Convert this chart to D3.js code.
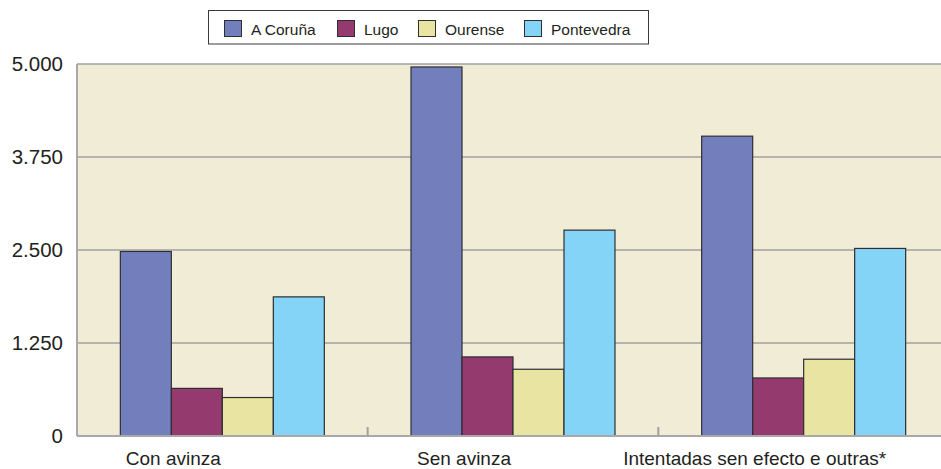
<!DOCTYPE html>
<html>
<head>
<meta charset="utf-8">
<script src="https://cdn.jsdelivr.net/npm/d3@7/dist/d3.min.js"></script>
<style>
html, body { margin: 0; padding: 0; background: #ffffff; }
svg { display: block; font-family: "Liberation Sans", Arial, sans-serif; }
</style>
</head>
<body>
<svg id="chart" width="941" height="469"></svg>
<script>
const categories = ["Con avinza", "Sen avinza", "Intentadas sen efecto e outras*"];
const seriesNames = ["A Coruña", "Lugo", "Ourense", "Pontevedra"];
const seriesColors = ["#737fbd", "#943a6e", "#e9e4a2", "#83d4f7"];
const aCoruna = [2480, 4960, 4030];
const lugo = [640, 1063, 780];
const ourense = [517, 897, 1032];
const pontevedra = [1870, 2767, 2521];
const yTicks = [0, 1250, 2500, 3750, 5000];
const yTickLabels = ["0", "1.250", "2.500", "3.750", "5.000"];

const seriesValues = [aCoruna, lugo, ourense, pontevedra];

(function () {
const svg = d3.select("#chart");
const pLeft = 77, pRight = 949, pTop = 64, pBottom = 436;

const x0 = d3.scaleBand().domain(categories).range([pLeft, pRight]).paddingInner(0).paddingOuter(0);
const x1 = d3.scaleBand().domain(seriesNames).range([0, x0.bandwidth()]).paddingInner(0).paddingOuter(0.85);
const y = d3.scaleLinear().domain([0, 5000]).range([pBottom, pTop]);

// plot background
svg.append("rect").attr("x", pLeft).attr("y", pTop).attr("width", pRight - pLeft).attr("height", pBottom - pTop)
  .attr("fill", "#f0ecd5");

// gridlines
svg.append("g").selectAll("line").data(yTicks.filter(d => d > 0)).join("line")
  .attr("x1", pLeft).attr("x2", pRight)
  .attr("y1", d => y(d)).attr("y2", d => y(d))
  .attr("stroke", "#a0a0a0").attr("stroke-width", 1.5);

// left axis line
svg.append("line").attr("x1", pLeft).attr("x2", pLeft).attr("y1", pTop).attr("y2", pBottom)
  .attr("stroke", "#a8a8a8").attr("stroke-width", 2);

// bars
const groups = svg.append("g").selectAll("g").data(categories).join("g")
  .attr("transform", d => `translate(${x0(d)},0)`);
groups.selectAll("rect").data((c, ci) => seriesNames.map((s, si) => ({ s, si, v: seriesValues[si][ci] })))
  .join("rect")
  .attr("x", d => x1(d.s))
  .attr("width", x1.bandwidth())
  .attr("y", d => y(d.v))
  .attr("height", d => y(0) - y(d.v))
  .attr("fill", d => seriesColors[d.si])
  .attr("stroke", "#2e2e33").attr("stroke-width", 1.2);

// bottom axis
svg.append("line").attr("x1", pLeft).attr("x2", pRight).attr("y1", pBottom).attr("y2", pBottom)
  .attr("stroke", "#a8a8a8").attr("stroke-width", 2);

// category separators (ticks pointing up)
svg.append("g").selectAll("line").data(categories.slice(1)).join("line")
  .attr("x1", d => x0(d)).attr("x2", d => x0(d))
  .attr("y1", pBottom).attr("y2", pBottom - 9)
  .attr("stroke", "#a0a0a0").attr("stroke-width", 2);

// y tick labels
svg.append("g").selectAll("text").data(yTicks).join("text")
  .attr("x", 63).attr("y", d => y(d)).attr("dy", "0.36em")
  .attr("text-anchor", "end").attr("font-size", 20.5).attr("fill", "#231f20")
  .text((d, i) => yTickLabels[i]);

// category labels
svg.append("g").selectAll("text").data(categories).join("text")
  .attr("x", d => x0(d) + x0.bandwidth() / 2 - 49).attr("y", 465)
  .attr("text-anchor", "middle").attr("font-size", 19).attr("fill", "#231f20")
  .text(d => d);

// legend
const lg = svg.append("g");
lg.append("rect").attr("x", 208.5).attr("y", 10.5).attr("width", 440).attr("height", 33.5)
  .attr("fill", "#ffffff").attr("stroke", "#3a3a3a").attr("stroke-width", 1);
const legendX = [224, 337, 418, 524];
const items = lg.selectAll("g").data(seriesNames).join("g")
  .attr("transform", (d, i) => `translate(${legendX[i]},20)`);
items.append("rect").attr("x", 0.5).attr("y", 0.5).attr("width", 17).attr("height", 16)
  .attr("fill", (d, i) => seriesColors[i]).attr("stroke", "#2e2e33").attr("stroke-width", 1);
items.append("text").attr("x", 27).attr("y", 14.5).attr("font-size", 15.5).attr("fill", "#231f20")
  .text(d => d);
})();
</script>
</body>
</html>
